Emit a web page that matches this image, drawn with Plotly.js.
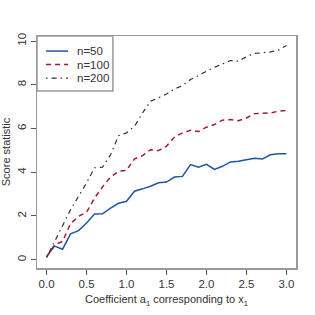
<!DOCTYPE html>
<html>
<head>
<meta charset="utf-8">
<script src="https://cdn.plot.ly/plotly-3.0.1.min.js"></script>
<style>html,body{margin:0;padding:0;background:#fff;}#chart{width:315px;height:315px;}</style>
</head>
<body>
<div id="chart"></div>
<script>
const coef = [0.0,0.1,0.2,0.3,0.4,0.5,0.6,0.7,0.8,0.9,1.0,1.1,1.2,1.3,1.4,1.5,1.6,1.7,1.8,1.9,2.0,2.1,2.2,2.3,2.4,2.5,2.6,2.7,2.8,2.9,3.0];
const n50  = [0.15,0.62,0.48,1.18,1.33,1.68,2.09,2.10,2.36,2.58,2.67,3.13,3.24,3.36,3.52,3.55,3.78,3.81,4.35,4.23,4.36,4.13,4.27,4.47,4.50,4.58,4.64,4.61,4.80,4.85,4.85];
const n100 = [0.12,0.68,0.84,1.65,1.98,2.17,2.82,3.33,3.78,4.04,4.09,4.61,4.76,5.03,4.99,5.19,5.61,5.80,5.92,5.86,6.06,6.18,6.38,6.41,6.36,6.48,6.68,6.71,6.71,6.79,6.83];
const n200 = [0.10,0.84,1.60,2.29,2.90,3.51,4.20,4.23,4.80,5.67,5.80,6.10,6.71,7.25,7.40,7.58,7.81,7.96,8.24,8.43,8.62,8.80,8.95,9.11,9.08,9.28,9.43,9.46,9.50,9.58,9.80];
const seriesNames = ["n=50","n=100","n=200"];
const xTicks = [0,0.5,1,1.5,2,2.5,3];
const xTickText = ["0.0","0.5","1.0","1.5","2.0","2.5","3.0"];
const yTicks = [0,2,4,6,8,10];

const lineStyles = [
  {color: "#1f56a3", width: 1.5},
  {color: "#a8182e", width: 1.5, dash: "5px,4px"},
  {color: "#333333", width: 1.2, dash: "1.5px,4px,5px,4px"}
];
const seriesData = [n50, n100, n200];

const traces = seriesData.map((ys, i) => ({
  x: coef, y: ys, name: seriesNames[i], mode: "lines", line: lineStyles[i], showlegend: false
}));

// manual legend (R-style compact box)
const legendRows = [0.935, 0.877, 0.818];
const shapes = [{type: "rect", xref: "paper", yref: "paper", x0: 0, x1: 0.293, y0: 0.763, y1: 1,
                 line: {color: "#999999", width: 1.5}, fillcolor: "#ffffff", layer: "above"}];
const annotations = [];
seriesNames.forEach((nm, i) => {
  shapes.push({type: "line", xref: "paper", yref: "paper", x0: 0.035, x1: 0.12, y0: legendRows[i], y1: legendRows[i],
               line: lineStyles[i], layer: "above"});
  annotations.push({xref: "paper", yref: "paper", x: 0.148, y: legendRows[i], xanchor: "left", yanchor: "middle",
                    text: nm, showarrow: false, font: {size: 11.5, color: "#333333"}});
});

const axisCommon = {
  showgrid: false, zeroline: false, showline: true, mirror: true,
  linecolor: "#999999", linewidth: 1.5,
  ticks: "outside", ticklen: 5, tickwidth: 1, tickcolor: "#555555",
  tickfont: {family: "Liberation Sans, Arial, sans-serif", size: 11.5, color: "#333333"}
};

const layout = {
  width: 315, height: 315,
  margin: {l: 37, r: 19, t: 36, b: 47},
  paper_bgcolor: "#ffffff", plot_bgcolor: "#ffffff",
  font: {family: "Liberation Sans, Arial, sans-serif", size: 11, color: "#333333"},
  showlegend: false,
  shapes: shapes,
  annotations: annotations,
  xaxis: Object.assign({}, axisCommon, {
    range: [-0.12, 3.12], tickvals: xTicks, ticktext: xTickText,
    title: {text: "Coefficient a<sub>1</sub> corresponding to x<sub>1</sub>", font: {size: 11, color: "#333333"}, standoff: 6}
  }),
  yaxis: Object.assign({}, axisCommon, {
    range: [-0.38, 10.23], tickvals: yTicks, tickangle: -90,
    title: {text: "Score statistic", font: {size: 11, color: "#333333"}, standoff: 6}
  })
};

Plotly.newPlot("chart", traces, layout, {displayModeBar: false, staticPlot: true});
</script>
</body>
</html>
